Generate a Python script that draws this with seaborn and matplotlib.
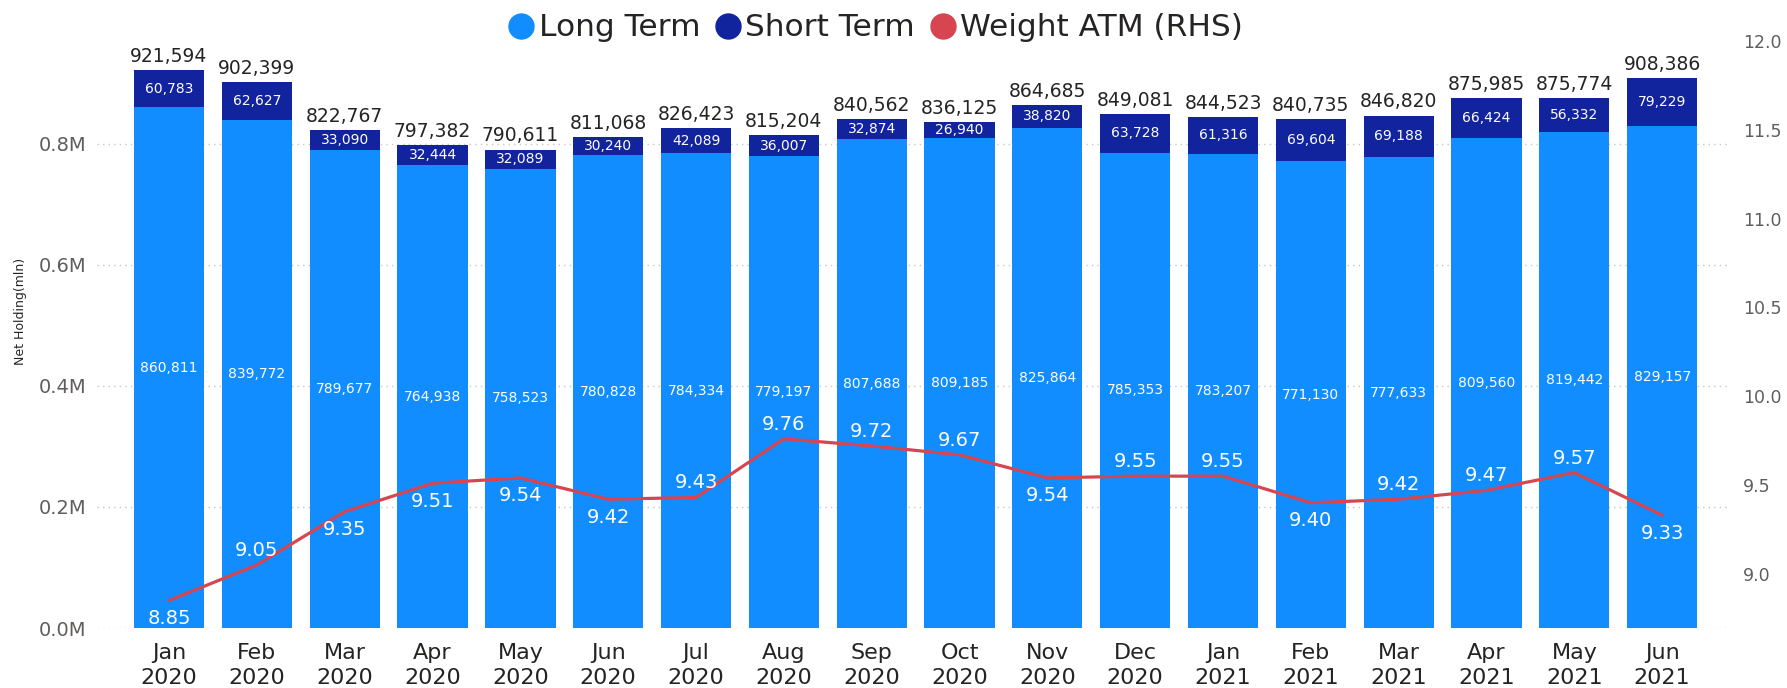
import matplotlib
matplotlib.use("Agg")
import matplotlib.pyplot as plt
import matplotlib.ticker as mticker
from matplotlib.lines import Line2D
import seaborn as sns
import numpy as np
import pandas as pd

sns.set_theme(style="white")
plt.rcParams['font.family'] = ['DejaVu Sans']

# Data
months = ["Jan\n2020", "Feb\n2020", "Mar\n2020", "Apr\n2020", "May\n2020", "Jun\n2020",
          "Jul\n2020", "Aug\n2020", "Sep\n2020", "Oct\n2020", "Nov\n2020", "Dec\n2020",
          "Jan\n2021", "Feb\n2021", "Mar\n2021", "Apr\n2021", "May\n2021", "Jun\n2021"]
long_term = [860811, 839772, 789677, 764938, 758523, 780828, 784334, 779197, 807688,
             809185, 825864, 785353, 783207, 771130, 777633, 809560, 819442, 829157]
short_term = [60783, 62627, 33090, 32444, 32089, 30240, 42089, 36007, 32874,
              26940, 38820, 63728, 61316, 69604, 69188, 66424, 56332, 79229]
totals = [921594, 902399, 822767, 797382, 790611, 811068, 826423, 815204, 840562,
          836125, 864685, 849081, 844523, 840735, 846820, 875985, 875774, 908386]
weight_atm = [8.85, 9.05, 9.35, 9.51, 9.54, 9.42, 9.43, 9.76, 9.72,
              9.67, 9.54, 9.55, 9.55, 9.40, 9.42, 9.47, 9.57, 9.33]
label_above = [False, True, False, False, False, False, True, True, True,
               True, False, True, True, False, True, True, True, False]

LIGHT = "#118DFF"
DARK = "#12239E"
RED = "#D64550"
TXT = "#252423"
AXTXT = "#605E5C"

df = pd.DataFrame({"month": months, "long": long_term, "short": short_term,
                   "total": totals, "weight": weight_atm})
df["pos"] = df.index

fig = plt.figure(figsize=(17.87, 6.88), dpi=100)
ax = fig.add_axes([0.0543, 0.0872, 0.9127, 0.8532])

# stacked bars: total in dark, long term drawn over it
sns.barplot(data=df, x="month", y="total", color=DARK, saturation=1, width=0.8,
            linewidth=0, ax=ax)
sns.barplot(data=df, x="month", y="long", color=LIGHT, saturation=1, width=0.8,
            linewidth=0, ax=ax)

ax.bar_label(ax.containers[0], labels=[f"{v:,}" for v in df["total"]],
             padding=3, fontsize=13.5, color=TXT)
ax.bar_label(ax.containers[1], labels=[f"{v:,}" for v in df["long"]],
             label_type="center", fontsize=10, color="white")
for i, row in df.iterrows():
    ax.annotate(f"{row['short']:,}", (i, (row["long"] + row["total"]) / 2),
                ha="center", va="center", fontsize=10, color="white")

ax.set_xlim(-0.82, 17.75)
ax.set_ylim(0, 970000)
ax.set_yticks([0, 200000, 400000, 600000, 800000])
ax.yaxis.set_major_formatter(mticker.FuncFormatter(lambda v, _: f"{v / 1e6:.1f}M"))
ax.yaxis.grid(True, linestyle=(0, (1, 3)), color="#C8C6C4", linewidth=1)
ax.xaxis.grid(False)
ax.set_axisbelow(True)
ax.tick_params(axis="y", length=0, labelsize=14, labelcolor=AXTXT, pad=8)
ax.tick_params(axis="x", length=0, labelsize=16, labelcolor=TXT, pad=11)
for t in ax.get_xticklabels():
    t.set_linespacing(1.3)
ax.set_xlabel("")
ax.set_ylabel("Net Holding(mln)", fontsize=9, color=TXT)
ax.yaxis.set_label_coords(-0.043, 0.54)
sns.despine(ax=ax, left=True, bottom=True)

# weight ATM line on the right-hand axis
ax2 = ax.twinx()
sns.lineplot(data=df, x="pos", y="weight", color=RED, linewidth=2.3, sort=False,
             legend=False, ax=ax2)
for i, row in df.iterrows():
    off = 10.5 if label_above[i] else -13
    ax2.annotate(f"{row['weight']:.2f}", (row["pos"], row["weight"]),
                 xytext=(0, off), textcoords="offset points",
                 ha="center", va="center", fontsize=14, color="white")
ax2.set_ylim(8.695, 12.0)
ax2.set_yticks(np.arange(9.0, 12.01, 0.5))
ax2.yaxis.set_major_formatter(mticker.FormatStrFormatter("%.1f"))
ax2.tick_params(axis="y", length=0, labelsize=12.5, labelcolor=AXTXT, pad=11)
ax2.set_ylabel("")
ax2.set_xlabel("")
ax2.grid(False)
ax2.set_xlim(-0.82, 17.75)
for s in ax2.spines.values():
    s.set_visible(False)

handles = [Line2D([], [], marker="o", linestyle="", markersize=18, color=c)
           for c in (LIGHT, DARK, RED)]
fig.legend(handles, ["Long Term", "Short Term", "Weight ATM (RHS)"],
           loc="center", bbox_to_anchor=(876 / 1787, 1 - 28 / 688), ncol=3,
           frameon=False, fontsize=22.5, handlelength=0.8, handletextpad=0.15,
           columnspacing=0.5, labelcolor=TXT)

fig.savefig("out.png", dpi=100)
